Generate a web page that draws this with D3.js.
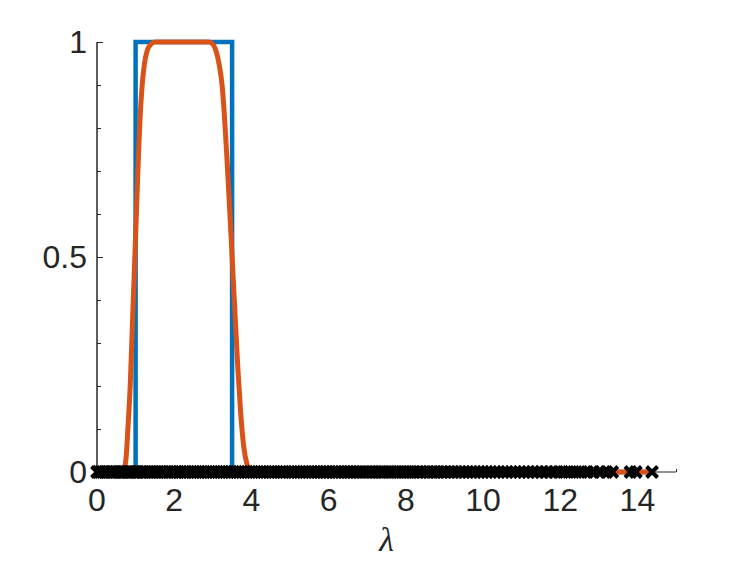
<!DOCTYPE html>
<html><head><meta charset="utf-8">
<script src="https://cdn.jsdelivr.net/npm/d3@7"></script>
<style>body{margin:0;background:#fff}svg{display:block}</style>
</head><body>
<script>
const xTicks = [0,2,4,6,8,10,12,14];
const yTicks = [0,0.5,1];
const yTickLabels = ["0","0.5","1"];
const yMinorTicks = [0.1,0.2,0.3,0.4,0.6,0.7,0.8,0.9];
// ideal filter (step) on [1, 3.5]
const idealLam = [0,1,1,3.5,3.5,14.38];
const idealVal = [0,0,1,1,0,0];
// smooth approximation
const approxLam = [0,0.68,0.72,0.76,0.8,0.86,0.92,0.96,1.0,1.04,1.08,1.12,1.17,1.23,1.3,1.4,1.5,2.9,3.0,3.08,3.16,3.24,3.3,3.36,3.42,3.5,3.58,3.65,3.72,3.8,3.88,3.96,4.02,14.38];
const approxVal = [0,0,0.01,0.04,0.1,0.2,0.35,0.45,0.55,0.65,0.75,0.83,0.9,0.95,0.98,0.995,1,1,0.995,0.98,0.95,0.9,0.83,0.74,0.64,0.5,0.36,0.24,0.14,0.06,0.02,0.003,0,0];
// eigenvalues (markers at 0)
const eigenvalues = [0,0.04,0.09,0.15,0.2,0.26,0.31,0.37,0.43,0.48,0.55,0.61,0.66,0.72,0.79,0.84,0.9,0.97,1.03,1.08,1.15,1.21,1.27,1.34,1.4,1.46,1.53,1.59,1.66,1.72,1.79,1.85,1.92,1.98,2.05,2.11,2.18,2.25,2.31,2.38,2.45,2.51,2.58,2.65,2.72,2.78,2.85,2.92,2.99,3.06,3.12,3.19,3.26,3.33,3.4,3.47,3.54,3.61,3.68,3.75,3.82,3.89,3.96,4.03,4.1,4.17,4.24,4.31,4.38,4.46,4.53,4.6,4.67,4.75,4.82,4.89,4.97,5.04,5.11,5.19,5.26,5.34,5.41,5.49,5.56,5.64,5.71,5.79,5.87,5.94,6.02,6.1,6.18,6.25,6.33,6.41,6.49,6.57,6.65,6.73,6.81,6.89,6.97,7.05,7.13,7.21,7.3,7.38,7.46,7.55,7.63,7.72,7.8,7.89,7.97,8.06,8.15,8.23,8.32,8.41,8.5,8.59,8.68,8.77,8.86,8.95,9.04,9.14,9.23,9.32,9.42,9.51,9.61,9.71,9.8,9.9,10.0,10.1,10.2,10.31,10.41,10.52,10.62,10.73,10.84,10.95,11.06,11.17,11.29,11.4,11.52,11.64,11.76,11.88,12.01,12.14,12.27,12.41,12.55,12.7,12.86,13.03,13.2,13.35,13.82,13.96,14.38];

const W = 747, H = 561;
const svg = d3.select("body").append("svg").attr("width", W).attr("height", H);
const x = d3.scaleLinear().domain([0,15]).range([97,676]);
const y = d3.scaleLinear().domain([0,1]).range([472,42]);
const axisColor = "#262626";
const font = "'Liberation Sans', Arial, sans-serif";

// y axis
const gy = svg.append("g").attr("transform","translate(97,0)");
gy.call(d3.axisRight(y).tickValues(yTicks).tickSize(6).tickFormat(""));
gy.append("g").call(d3.axisRight(y).tickValues(yMinorTicks).tickSize(4).tickFormat(""));
gy.selectAll("path").attr("stroke", axisColor);
gy.selectAll("line").attr("stroke", axisColor);
gy.selectAll(".domain").attr("d", "M0," + y(1) + "V" + y(0));
svg.append("g").selectAll("text").data(yTicks).join("text")
  .attr("x", 87).attr("y", d => y(d)).attr("dy","0.35em")
  .attr("text-anchor","end").attr("font-family", font).attr("font-size", 32)
  .attr("fill", axisColor).text((d,i) => yTickLabels[i]);

// x axis
const gx = svg.append("g").attr("transform","translate(0,472)");
gx.call(d3.axisTop(x).tickValues(xTicks.concat([15])).tickSize(3).tickFormat(""));
gx.selectAll(".domain").attr("d", "M" + x(0) + ",0H" + x(15));
gx.selectAll("path,line").attr("stroke", axisColor);
svg.append("g").selectAll("text").data(xTicks).join("text")
  .attr("x", d => x(d)).attr("y", 500).attr("dy","0.35em")
  .attr("text-anchor","middle").attr("font-family", font).attr("font-size", 32)
  .attr("fill", axisColor).text(d => d);

svg.append("text").attr("x", x(7.5)).attr("y", 551)
  .attr("text-anchor","middle").attr("font-family","'Liberation Serif', serif")
  .attr("font-style","italic").attr("font-size", 34).attr("fill", axisColor).text("λ");

// lines
const line = d3.line().x(d => x(d[0])).y(d => y(d[1]));
svg.append("path").datum(idealLam.map((l,i)=>[l, idealVal[i]]))
  .attr("d", line).attr("fill","none").attr("stroke","#0072BD").attr("stroke-width",4.5)
  .attr("stroke-linejoin","miter");
svg.append("path").datum(approxLam.map((l,i)=>[l, approxVal[i]]))
  .attr("d", line.curve(d3.curveMonotoneX)).attr("fill","none").attr("stroke","#D95319").attr("stroke-width",5)
  .attr("stroke-linejoin","round");

// markers
const s = 5.5;
svg.append("g").selectAll("path").data(eigenvalues).join("path")
  .attr("d", d => { const cx = x(d), cy = y(0);
    return `M${cx-s},${cy-s}L${cx+s},${cy+s}M${cx-s},${cy+s}L${cx+s},${cy-s}`; })
  .attr("stroke","#000").attr("stroke-width",4).attr("fill","none");
</script>
</body></html>
